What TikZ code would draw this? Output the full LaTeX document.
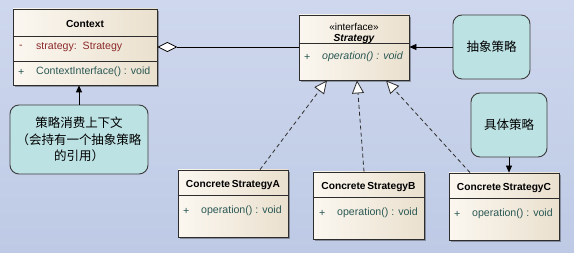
\documentclass[tikz,border=0pt]{standalone}
\usepackage{fontspec}
\setmainfont{Liberation Sans}
\newfontfamily\cjk{Noto Sans CJK SC}
\usetikzlibrary{arrows.meta,shadows,calc}

\definecolor{bgtop}{RGB}{206,215,237}
\definecolor{bgbot}{RGB}{190,202,229}
\definecolor{creamA}{RGB}{251,247,240}
\definecolor{creamB}{RGB}{234,224,206}
\definecolor{boxline}{RGB}{45,45,45}
\definecolor{notefill}{RGB}{189,226,228}
\definecolor{noteline}{RGB}{60,60,60}
\definecolor{attrcol}{RGB}{140,42,42}
\definecolor{opcol}{RGB}{42,88,84}

\begin{document}
\begin{tikzpicture}[x=1pt,y=-1pt,
  classbox/.style={draw=boxline, line width=0.8pt, left color=creamA, right color=creamB,
    drop shadow={shadow xshift=2pt, shadow yshift=-2pt, fill=black, opacity=0.3},
    inner sep=0pt, minimum width=110pt, minimum height=67pt},
  divider/.style={draw=boxline, line width=0.8pt},
  notebox/.style={draw=noteline, line width=0.9pt, fill=notefill, rounded corners=9pt,
    align=center, inner sep=0pt, font=\cjk\fontsize{12.5}{16.5}\selectfont},
  title/.style={font=\bfseries\fontsize{10.2}{12}\selectfont, inner sep=0pt},
  member/.style={font=\fontsize{10.6}{12}\selectfont, inner sep=0pt, anchor=west},
  attr/.style={member, text=attrcol},
  oper/.style={member, text=opcol},
  notearrow/.style={draw=black, line width=0.8pt, -{Triangle[length=7pt,width=6pt]}},
  realize/.style={draw=boxline, line width=0.8pt, dash pattern=on 4pt off 3pt,
    -{Triangle[length=13pt,width=12pt,fill=white]}},
  aggregate/.style={draw=black, line width=0.8pt, -{Diamond[length=20pt,width=10pt,fill=white]}}
]
% background
\useasboundingbox (0,0) rectangle (574,253);
\shade[top color=bgtop, bottom color=bgbot] (0,0) rectangle (574,253);

% ---- Context class ----
\node[classbox, minimum width=144pt, minimum height=76pt] (ctx) at (85,47) {};
\draw[divider] ($(ctx.north west)+(0,28)$) -- ($(ctx.north east)+(0,28)$);
\draw[divider] ($(ctx.north west)+(0,53)$) -- ($(ctx.north east)+(0,53)$);
\node[title] (ctxname) at (85,24) {Context};
\node[attr] (ctxvis1) at (19,47) {-};
\node[attr] (ctxattr) at (36,47) {strategy:\ \ Strategy};
\node[oper] (ctxvis2) at (18,72) {+};
\node[oper] (ctxop) at (36,72) {ContextInterface() : void};

% ---- Strategy interface ----
\node[classbox, minimum height=65pt] (strat) at (354,47.5) {};
\draw[divider] ($(strat.north west)+(0,29)$) -- ($(strat.north east)+(0,29)$);
\node[inner sep=0pt, font=\fontsize{10}{11}\selectfont] (stereo) at (354,27) {«interface»};
\node[title, font=\bfseries\itshape\fontsize{10.2}{12}\selectfont] (stratname) at (354,39) {Strategy};
\node[oper] (stratvis) at (304,57) {+};
\node[oper, font=\itshape\fontsize{10.6}{12}\selectfont] (stratop) at (322,57) {operation() : void};

% ---- concrete strategies ----
\node[classbox] (ca) at (233,203.5) {};
\draw[divider] ($(ca.north west)+(0,26)$) -- ($(ca.north east)+(0,26)$);
\node[title] (caname) at (233,185) {Concrete\,StrategyA};
\node[oper] (cavis) at (183,211) {+};
\node[oper] (caop) at (201,211) {operation() : void};

\node[classbox, minimum width=111pt] (cb) at (368.5,205.5) {};
\draw[divider] ($(cb.north west)+(0,26)$) -- ($(cb.north east)+(0,26)$);
\node[title] (cbname) at (368.5,187) {Concrete\,StrategyB};
\node[oper] (cbvis) at (319,213) {+};
\node[oper] (cbop) at (337,213) {operation() : void};

\node[classbox] (cc) at (504,206.5) {};
\draw[divider] ($(cc.north west)+(0,26)$) -- ($(cc.north east)+(0,26)$);
\node[title] (ccname) at (504,188) {Concrete\,StrategyC};
\node[oper] (ccvis) at (454,214) {+};
\node[oper] (ccop) at (472,214) {operation() : void};

% ---- notes ----
\node[notebox, minimum width=77pt, minimum height=64pt] (abs) at (491.5,47) {抽象策略};
\node[notebox, minimum width=76pt, minimum height=64pt] (conc) at (509,125) {具体策略};
\node[notebox, minimum width=138pt, minimum height=69pt] (ctxnote) at (79,139.5)
  {策略消费上下文\\（会持有一个抽象策略\\的引用）};

% ---- connectors ----
\draw[aggregate] (strat.west |- ctx.east) -- (ctx.east);
\draw[notearrow] (abs.west) -- (abs.west -| strat.east);
\draw[notearrow] (ctxnote.north) -- (ctxnote.north |- ctx.south);
\draw[notearrow] (conc.south) -- (conc.south |- cc.north);

\coordinate (tipa) at ($(strat.south)+(-27,0)$);
\coordinate (tipb) at ($(strat.south)+(3,0)$);
\coordinate (tipc) at ($(strat.south)+(32,0)$);
\draw[realize] ($(ca.north)+(27,0)$) -- (tipa);
\draw[realize] ($(cb.north)+(-4.5,0)$) -- (tipb);
\draw[realize] ($(cc.north)+(-34,0)$) -- (tipc);
\end{tikzpicture}
\end{document}
